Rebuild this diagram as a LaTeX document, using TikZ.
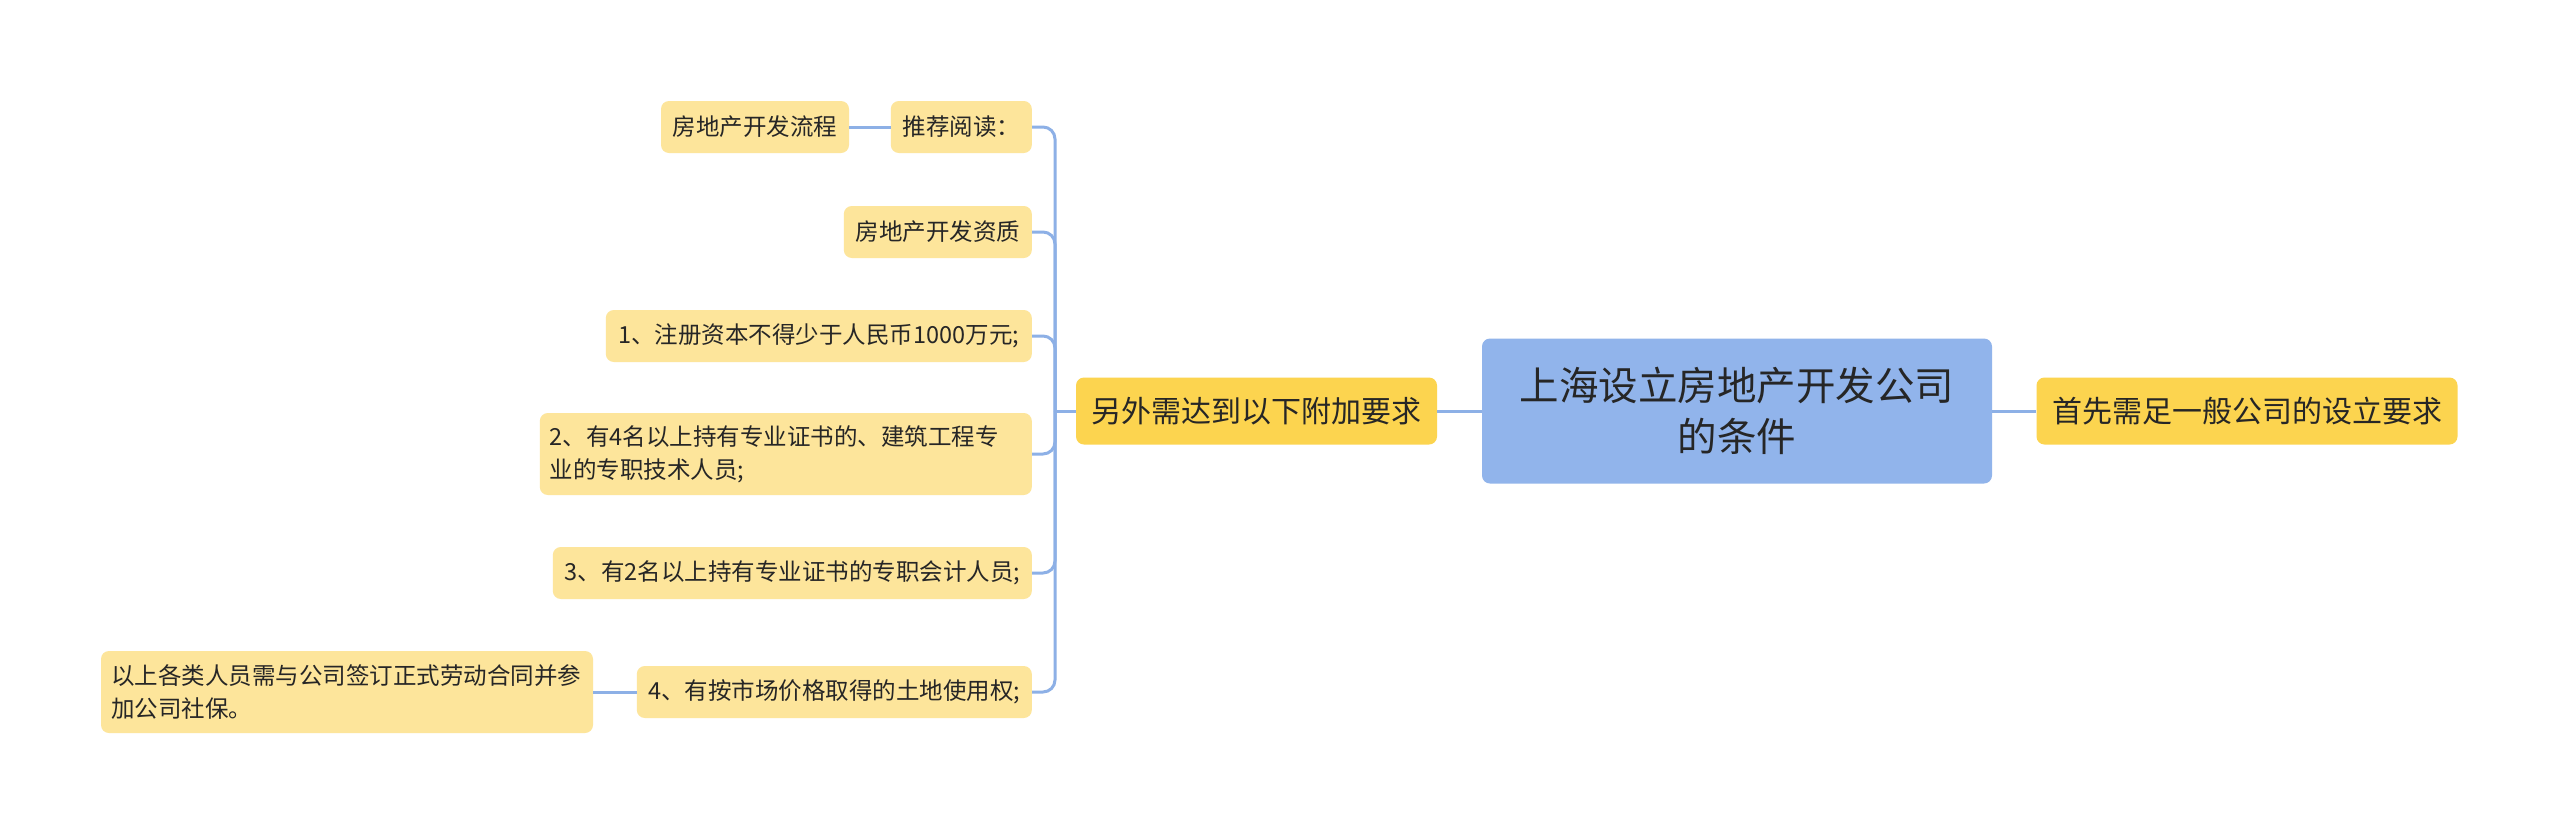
\documentclass[tikz,border=0pt]{standalone}
\usepackage{fontspec}
\newfontfamily\cjk{Noto Sans CJK SC}
\definecolor{rootfill}{HTML}{91B4EB}
\definecolor{mainfill}{HTML}{FCD44F}
\definecolor{leaffill}{HTML}{FDE59B}
\definecolor{linecol}{HTML}{8DB0E6}
\definecolor{txt}{HTML}{262626}
\tikzset{
  box/.style={rounded corners=8pt, inner sep=0pt, text=txt, font=\cjk},
  rootbox/.style={box, fill=rootfill, minimum width=510pt, minimum height=145pt, align=center,
     font=\cjk\fontsize{39.5}{51}\selectfont},
  mainbox/.style={box, fill=mainfill, minimum height=67pt, font=\cjk\fontsize{30}{36}\selectfont},
  leafbox/.style={box, fill=leaffill, minimum height=52pt, font=\cjk\fontsize{23.5}{33}\selectfont},
  conn/.style={draw=linecol, line width=3pt},
}
\begin{document}
\begin{tikzpicture}[x=1pt,y=-1pt]
\useasboundingbox[fill=white] (0,0) rectangle (2560,836);
% root and main branches
\node[rootbox] (root) at (1737,411) {上海设立房地产开发公司\\的条件};
\node[mainbox, minimum width=421pt] (first) at (2247,411) {首先需足一般公司的设立要求};
\node[mainbox, minimum width=361pt] (other) at (1256.5,411) {另外需达到以下附加要求};
% leaves
\node[leafbox, minimum width=141pt, anchor=east] (rec) at (1032,127) {推荐阅读：};
\node[leafbox, minimum width=188pt] (flow) at (755,127) {房地产开发流程};
\node[leafbox, minimum width=188pt, anchor=east] (qual) at (1032,232) {房地产开发资质};
\node[leafbox, minimum width=426pt, anchor=east] (r1) at (1032,336) {1、注册资本不得少于人民币1000万元;};
\node[leafbox, minimum width=492pt, minimum height=82pt, text width=472pt, align=left, anchor=east] (r2) at (1032,454)
  {2、有4名以上持有专业证书的、建筑工程专\\业的专职技术人员;};
\node[leafbox, minimum width=479pt, anchor=east] (r3) at (1032,573) {3、有2名以上持有专业证书的专职会计人员;};
\node[leafbox, minimum width=395pt, anchor=east] (r4) at (1032,692) {4、有按市场价格取得的土地使用权;};
\node[leafbox, minimum width=492pt, minimum height=82pt, text width=472pt, align=left] (note) at (347,692)
  {以上各类人员需与公司签订正式劳动合同并参\\加公司社保。};
% connectors
\draw[conn] (root.east) -- (first.west);
\draw[conn] (other.east) -- (root.west);
\coordinate (j) at (1055,411);
\draw[conn] (other.west) -- (j);
\foreach \n in {rec,qual,r1,r2,r3,r4}
  \draw[conn, rounded corners=12pt] (j) |- (\n.east);
\draw[conn] (rec.west) -- (flow.east);
\draw[conn] (r4.west) -- (note.east);
\end{tikzpicture}
\end{document}
